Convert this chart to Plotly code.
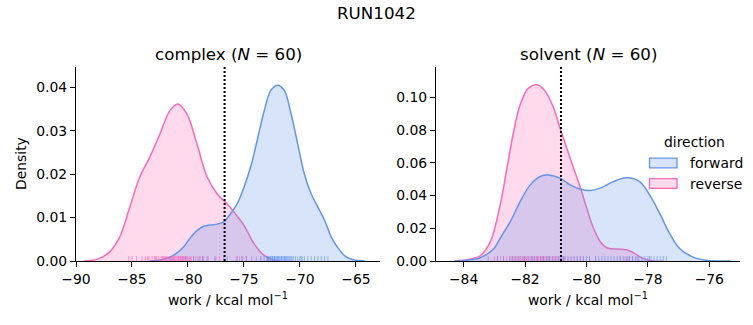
import plotly.graph_objects as go

# ---------------- data ----------------
# KDE curves, complex phase
cx_rev_x = [-89.3, -88.0, -87.0, -86.1, -85.2, -84.3, -83.4, -82.5, -81.6, -80.9, -80.1,
            -79.2, -78.3, -77.4, -76.6, -75.9, -75.0, -74.1, -73.2, -72.3, -71.8]
cx_rev_y = [0.0, 0.0005, 0.0021, 0.0055, 0.0124, 0.0194, 0.0240, 0.0293, 0.0347, 0.0362, 0.0339,
            0.0270, 0.0194, 0.0155, 0.0134, 0.0113, 0.0082, 0.0040, 0.0013, 0.0002, 0.0]
cx_fwd_x = [-83.4, -82.8, -82.2, -81.6, -81.0, -80.4, -79.8, -79.2, -78.6, -78.0, -77.4, -76.8,
            -76.2, -75.6, -75.0, -74.4, -73.8, -73.2, -72.6, -72.0, -71.4, -70.8, -70.2, -69.6,
            -69.0, -68.4, -67.8, -67.2, -66.6, -66.0, -65.4, -64.8, -64.2]
cx_fwd_y = [0.0, 0.0001, 0.0004, 0.0009, 0.0018, 0.0032, 0.0053, 0.0070, 0.0080, 0.0083, 0.0085, 0.0090,
            0.0109, 0.0132, 0.0170, 0.0217, 0.0280, 0.0345, 0.0393, 0.0405, 0.0393, 0.0340, 0.0270, 0.0200,
            0.0155, 0.0124, 0.0094, 0.0055, 0.0030, 0.0012, 0.0004, 0.0001, 0.0]

# KDE curves, solvent phase
sv_rev_x = [-84.3, -84.0, -83.7, -83.46, -83.13, -82.81, -82.59, -82.37, -82.16, -81.89, -81.61,
            -81.34, -81.07, -80.86, -80.64, -80.42, -80.21, -79.99, -79.77, -79.55, -79.34, -79.01,
            -78.69, -78.45, -78.16, -77.83, -77.5]
sv_rev_y = [0.0, 0.0004, 0.0015, 0.0032, 0.0118, 0.0343, 0.0567, 0.0791, 0.0954, 0.1056, 0.1076,
            0.1036, 0.0934, 0.0811, 0.0689, 0.0567, 0.0455, 0.0322, 0.0200, 0.0118, 0.0081, 0.0073,
            0.0069, 0.0048, 0.0015, 0.0, 0.0]
sv_fwd_x = [-84.3, -83.89, -83.46, -83.02, -82.81, -82.48, -82.16, -81.83, -81.51, -81.24, -80.86,
            -80.53, -80.21, -79.88, -79.55, -79.12, -78.69, -78.26, -77.94, -77.61, -77.29, -76.96,
            -76.53, -76.1, -75.67, -75.3]
sv_fwd_y = [0.0, 0.0005, 0.0020, 0.0075, 0.0139, 0.0240, 0.0363, 0.0465, 0.0516, 0.0526, 0.0506,
            0.0465, 0.0440, 0.0430, 0.0445, 0.0485, 0.0508, 0.0483, 0.0402, 0.0289, 0.0167, 0.0075,
            0.0024, 0.0004, 0.0, 0.0]

# individual work values (rug), 60 per direction
cx_rev_w = [-85.3, -85.0, -84.6, -84.1, -83.8, -83.6, -83.5, -83.2, -83.0, -82.9, -82.8, -82.6,
            -82.4, -82.3, -82.2, -82.1, -82.0, -81.9, -81.8, -81.7, -81.6, -81.5, -81.45, -81.4,
            -81.3, -81.25, -81.2, -81.1, -81.0, -80.9, -80.85, -80.8, -80.7, -80.65, -80.6, -80.5,
            -80.45, -80.4, -80.3, -80.2, -80.1, -80.0, -79.9, -79.8, -79.7, -79.5, -79.3, -79.1,
            -78.9, -78.7, -78.6, -78.2, -77.5, -77.2, -76.8, -75.7, -75.4, -75.1, -74.8, -73.5]
cx_fwd_w = [-81.6, -80.2, -79.5, -79.0, -78.7, -78.3, -77.6, -76.5, -75.6, -75.2, -74.8, -74.3,
            -73.9, -73.5, -73.2, -73.0, -72.9, -72.85, -72.8, -72.7, -72.65, -72.6, -72.5, -72.45,
            -72.4, -72.3, -72.25, -72.2, -72.1, -72.0, -71.95, -71.9, -71.8, -71.7, -71.65, -71.6,
            -71.5, -71.4, -71.35, -71.3, -71.2, -71.1, -71.0, -70.9, -70.8, -70.7, -70.6, -70.4,
            -70.2, -70.0, -69.9, -69.8, -69.6, -69.3, -69.0, -68.7, -68.4, -68.1, -67.8, -67.5]
sv_rev_w = [-83.0, -82.9, -82.8, -82.7, -82.6, -82.5, -82.45, -82.4, -82.35, -82.3, -82.25, -82.2,
            -82.15, -82.1, -82.05, -82.0, -81.95, -81.9, -81.85, -81.8, -81.75, -81.7, -81.65, -81.6,
            -81.55, -81.5, -81.45, -81.4, -81.35, -81.3, -81.25, -81.2, -81.15, -81.1, -81.05, -81.0,
            -80.95, -80.9, -80.85, -80.8, -80.75, -80.7, -80.6, -80.5, -80.4, -80.3, -80.2, -80.1,
            -79.9, -79.7, -81.62, -81.58, -81.48, -81.42, -81.38, -82.02, -78.9, -78.75, -78.6, -78.5]
sv_fwd_w = [-83.2, -82.9, -82.7, -82.5, -82.4, -82.3, -82.2, -82.1, -82.0, -81.9, -81.8, -81.75,
            -81.7, -81.6, -81.5, -81.4, -81.3, -81.25, -81.2, -81.1, -81.0, -80.9, -80.8, -80.75,
            -80.7, -80.6, -80.5, -80.4, -80.3, -80.2, -80.1, -80.0, -79.9, -79.7, -79.6, -79.5,
            -79.4, -79.3, -79.2, -79.1, -79.0, -78.9, -78.8, -78.7, -78.65, -78.6, -78.5, -78.4,
            -78.35, -78.3, -78.2, -78.1, -78.0, -77.95, -77.9, -77.8, -77.7, -77.6, -77.5, -77.4]

# free energy estimate (dotted line)
cx_dg = -76.73
sv_dg = -80.83

panel_titles = ["complex (<i>N</i> = 60)", "solvent (<i>N</i> = 60)"]
suptitle = "RUN1042"
xlabel = "work / kcal mol<sup>−1</sup>"
ylabel = "Density"
directions = ["forward", "reverse"]

# ---------------- styling ----------------
W, H = 753, 325
FONT = "DejaVu Sans"
FWD = "rgb(100,149,237)"
FWD_FILL = "rgba(100,149,237,0.25)"
REV = "rgb(255,105,180)"
REV_FILL = "rgba(255,105,180,0.25)"
FWD_RUG = "rgba(100,149,237,0.65)"
REV_RUG = "rgba(255,105,180,0.65)"

# plotting area in pixels
PL, PR, PT, PB = 76, 740, 67, 261
PW, PH = PR - PL, PB - PT

def px2x(p):
    return (p - PL) / PW

def px2y(p):
    return (PB - p) / PH

ax1_dom = [0.0, px2x(380)]
ax2_dom = [px2x(436), 1.0]
y_dom = [0.0, 1.0]
ymax1 = 0.0447
ymax2 = 0.1185

fig = go.Figure()

def add_kde(x, y, line, fill, xa, ya):
    fig.add_trace(go.Scatter(x=x, y=y, mode="lines", xaxis=xa, yaxis=ya,
                             line=dict(color=line, width=1.5, shape="spline", smoothing=1.0),
                             fill="tozeroy", fillcolor=fill, showlegend=False, hoverinfo="skip"))

def add_rug(vals, color, ymax, xa, ya):
    xs, ys = [], []
    h = 0.025 * ymax
    for v in vals:
        xs += [v, v, None]
        ys += [0, h, None]
    fig.add_trace(go.Scatter(x=xs, y=ys, mode="lines", xaxis=xa, yaxis=ya,
                             line=dict(color=color, width=1), showlegend=False, hoverinfo="skip"))

# complex
add_kde(cx_rev_x, cx_rev_y, REV, REV_FILL, "x", "y")
add_kde(cx_fwd_x, cx_fwd_y, FWD, FWD_FILL, "x", "y")
add_rug(cx_rev_w, REV_RUG, ymax1, "x", "y")
add_rug(cx_fwd_w, FWD_RUG, ymax1, "x", "y")
# solvent
add_kde(sv_rev_x, sv_rev_y, REV, REV_FILL, "x2", "y2")
add_kde(sv_fwd_x, sv_fwd_y, FWD, FWD_FILL, "x2", "y2")
add_rug(sv_rev_w, REV_RUG, ymax2, "x2", "y2")
add_rug(sv_fwd_w, FWD_RUG, ymax2, "x2", "y2")

axis_common = dict(showgrid=False, zeroline=False, showline=True, linecolor="black", linewidth=1,
                   ticks="outside", ticklen=5, tickwidth=1, tickcolor="black", automargin=False,
                   tickfont=dict(family=FONT, size=13.9, color="black"))

fig.update_layout(
    width=W, height=H, margin=dict(l=PL, r=W - PR, t=PT, b=H - PB, autoexpand=False),
    plot_bgcolor="white", paper_bgcolor="white", showlegend=False,
    font=dict(family=FONT, color="black"),
    xaxis=dict(domain=ax1_dom, range=[-90, -62.85], tickmode="array",
               tickvals=[-90, -85, -80, -75, -70, -65], anchor="y", **axis_common),
    yaxis=dict(domain=y_dom, range=[0, ymax1], tickmode="array",
               tickvals=[0, 0.01, 0.02, 0.03, 0.04], tickformat=".2f", anchor="x", **axis_common),
    xaxis2=dict(domain=ax2_dom, range=[-84.9, -75.0], tickmode="array",
                tickvals=[-84, -82, -80, -78, -76], anchor="y2", **axis_common),
    yaxis2=dict(domain=y_dom, range=[0, ymax2], tickmode="array",
                tickvals=[0, 0.02, 0.04, 0.06, 0.08, 0.10], tickformat=".2f", anchor="x2", **axis_common),
)

# dotted vertical lines
for xref, yref, xv in [("x", "y domain", cx_dg), ("x2", "y2 domain", sv_dg)]:
    fig.add_shape(type="line", xref=xref, yref=yref, x0=xv, x1=xv, y0=0, y1=1,
                  line=dict(color="black", width=2, dash="2px,2px"))

# titles and labels
ann = []
ann.append(dict(text=suptitle, x=px2x(376.5), y=px2y(13), xref="paper", yref="paper",
                xanchor="center", yanchor="middle", showarrow=False,
                font=dict(family=FONT, size=16.7, color="black")))
for t, dom in zip(panel_titles, [ax1_dom, ax2_dom]):
    ann.append(dict(text=t, x=(dom[0] + dom[1]) / 2, y=px2y(54), xref="paper", yref="paper",
                    xanchor="center", yanchor="middle", showarrow=False,
                    font=dict(family=FONT, size=16.7, color="black")))
for dom in [ax1_dom, ax2_dom]:
    ann.append(dict(text=xlabel, x=(dom[0] + dom[1]) / 2, y=px2y(299), xref="paper", yref="paper",
                    xanchor="center", yanchor="middle", showarrow=False,
                    font=dict(family=FONT, size=13.9, color="black")))
ann.append(dict(text=ylabel, x=px2x(21), y=px2y(164), xref="paper", yref="paper",
                xanchor="center", yanchor="middle", showarrow=False, textangle=-90,
                font=dict(family=FONT, size=13.9, color="black")))

# manual legend
ann.append(dict(text="direction", x=px2x(694.5), y=px2y(142), xref="paper", yref="paper",
                xanchor="center", yanchor="middle", showarrow=False,
                font=dict(family=FONT, size=13.9, color="black")))
for i, (lab, lc, fc) in enumerate(zip(directions, [FWD, REV], [FWD_FILL, REV_FILL])):
    yc = 163 + 20.5 * i
    fig.add_shape(type="rect", xref="paper", yref="paper",
                  x0=px2x(649.5), x1=px2x(677), y0=px2y(yc - 4.8), y1=px2y(yc + 4.8),
                  line=dict(color=lc, width=1.3), fillcolor=fc)
    ann.append(dict(text=lab, x=px2x(688), y=px2y(yc), xref="paper", yref="paper",
                    xanchor="left", yanchor="middle", showarrow=False,
                    font=dict(family=FONT, size=13.9, color="black")))

fig.update_layout(annotations=ann)
fig.write_html("out.html")
